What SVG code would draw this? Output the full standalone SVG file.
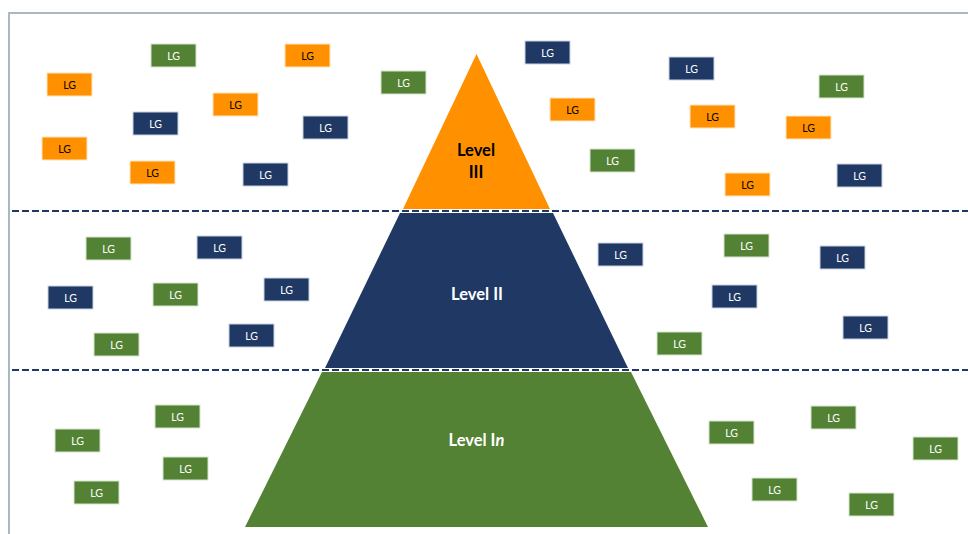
<svg xmlns="http://www.w3.org/2000/svg" width="968" height="534" viewBox="0 0 968 534">
<style>
.o{fill:#FF9100;stroke:#FFE3C0;stroke-width:1}
.b{fill:#203864;stroke:#C9D2E0;stroke-width:1}
.g{fill:#548235;stroke:#D6E3CC;stroke-width:1}
.t{font-family:Lato,"Open Sans",sans-serif;font-size:10.5px;text-anchor:middle}
.tw{fill:#ffffff}
.tk{fill:#000000}
.lv{font-family:Lato,"Open Sans",sans-serif;font-size:16.5px;font-weight:bold;text-anchor:middle}
.dash{stroke:#203864;stroke-width:2;stroke-dasharray:7 3;fill:none}
</style>
<rect width="968" height="534" fill="#ffffff"/>
<g id="frame" fill="none" stroke="#A9B8C2" stroke-width="2">
<path d="M9 534 V13 H968"/>
</g>
<g id="pyramid">
<g id="level3"><polygon points="476.5,54 403,209 550,209" fill="#FF9100"/>
<text class="lv" x="476" y="156" fill="#000">Level</text>
<text class="lv" x="476" y="177.5" fill="#000">III</text></g>
<g id="level2"><polygon points="400,213 553,213 628,368 325,368" fill="#203864"/>
<text class="lv" x="477" y="299.5" fill="#fff">Level II</text></g>
<g id="level1"><polygon points="322,372 631,372 708,527 245,527" fill="#548235"/>
<text class="lv" x="476.5" y="446" fill="#fff">Level I<tspan font-style="italic">n</tspan></text></g>
</g>
<g id="connectors">
<line class="dash" x1="12" y1="211" x2="968" y2="211"/>
<line class="dash" x1="12" y1="370" x2="968" y2="370"/>
</g>
<g id="lg-boxes">
<g id="n1"><rect class="g" x="151" y="44" width="45" height="23"/><text class="t tw" x="173.5" y="59.5">LG</text></g>
<g id="n2"><rect class="o" x="47" y="73" width="45" height="23"/><text class="t tk" x="69.5" y="88.5">LG</text></g>
<g id="n3"><rect class="b" x="133" y="112" width="45" height="23"/><text class="t tw" x="155.5" y="127.5">LG</text></g>
<g id="n4"><rect class="o" x="42" y="137" width="45" height="23"/><text class="t tk" x="64.5" y="152.5">LG</text></g>
<g id="n5"><rect class="o" x="130" y="161" width="45" height="23"/><text class="t tk" x="152.5" y="176.5">LG</text></g>
<g id="n6"><rect class="o" x="285" y="44" width="45" height="23"/><text class="t tk" x="307.5" y="59.5">LG</text></g>
<g id="n7"><rect class="o" x="213" y="93" width="45" height="23"/><text class="t tk" x="235.5" y="108.5">LG</text></g>
<g id="n8"><rect class="b" x="303" y="116" width="45" height="23"/><text class="t tw" x="325.5" y="131.5">LG</text></g>
<g id="n9"><rect class="b" x="243" y="163" width="45" height="23"/><text class="t tw" x="265.5" y="178.5">LG</text></g>
<g id="n10"><rect class="g" x="381" y="71" width="45" height="23"/><text class="t tw" x="403.5" y="86.5">LG</text></g>
<g id="n11"><rect class="b" x="525" y="41" width="45" height="23"/><text class="t tw" x="547.5" y="56.5">LG</text></g>
<g id="n12"><rect class="o" x="550" y="98" width="45" height="23"/><text class="t tk" x="572.5" y="113.5">LG</text></g>
<g id="n13"><rect class="g" x="590" y="149" width="45" height="23"/><text class="t tw" x="612.5" y="164.5">LG</text></g>
<g id="n14"><rect class="b" x="669" y="57" width="45" height="23"/><text class="t tw" x="691.5" y="72.5">LG</text></g>
<g id="n15"><rect class="o" x="690" y="105" width="45" height="23"/><text class="t tk" x="712.5" y="120.5">LG</text></g>
<g id="n16"><rect class="g" x="819" y="75" width="45" height="23"/><text class="t tw" x="841.5" y="90.5">LG</text></g>
<g id="n17"><rect class="o" x="786" y="116" width="45" height="23"/><text class="t tk" x="808.5" y="131.5">LG</text></g>
<g id="n18"><rect class="o" x="725" y="173" width="45" height="23"/><text class="t tk" x="747.5" y="188.5">LG</text></g>
<g id="n19"><rect class="b" x="837" y="164" width="45" height="23"/><text class="t tw" x="859.5" y="179.5">LG</text></g>
<g id="n20"><rect class="g" x="86" y="237" width="45" height="23"/><text class="t tw" x="108.5" y="252.5">LG</text></g>
<g id="n21"><rect class="b" x="197" y="236" width="45" height="23"/><text class="t tw" x="219.5" y="251.5">LG</text></g>
<g id="n22"><rect class="b" x="48" y="286" width="45" height="23"/><text class="t tw" x="70.5" y="301.5">LG</text></g>
<g id="n23"><rect class="g" x="153" y="283" width="45" height="23"/><text class="t tw" x="175.5" y="298.5">LG</text></g>
<g id="n24"><rect class="b" x="264" y="278" width="45" height="23"/><text class="t tw" x="286.5" y="293.5">LG</text></g>
<g id="n25"><rect class="g" x="94" y="333" width="45" height="23"/><text class="t tw" x="116.5" y="348.5">LG</text></g>
<g id="n26"><rect class="b" x="229" y="324" width="45" height="23"/><text class="t tw" x="251.5" y="339.5">LG</text></g>
<g id="n27"><rect class="b" x="598" y="243" width="45" height="23"/><text class="t tw" x="620.5" y="258.5">LG</text></g>
<g id="n28"><rect class="g" x="724" y="234" width="45" height="23"/><text class="t tw" x="746.5" y="249.5">LG</text></g>
<g id="n29"><rect class="b" x="820" y="246" width="45" height="23"/><text class="t tw" x="842.5" y="261.5">LG</text></g>
<g id="n30"><rect class="b" x="712" y="285" width="45" height="23"/><text class="t tw" x="734.5" y="300.5">LG</text></g>
<g id="n31"><rect class="b" x="843" y="316" width="45" height="23"/><text class="t tw" x="865.5" y="331.5">LG</text></g>
<g id="n32"><rect class="g" x="657" y="332" width="45" height="23"/><text class="t tw" x="679.5" y="347.5">LG</text></g>
<g id="n33"><rect class="g" x="155" y="405" width="45" height="23"/><text class="t tw" x="177.5" y="420.5">LG</text></g>
<g id="n34"><rect class="g" x="55" y="429" width="45" height="23"/><text class="t tw" x="77.5" y="444.5">LG</text></g>
<g id="n35"><rect class="g" x="163" y="457" width="45" height="23"/><text class="t tw" x="185.5" y="472.5">LG</text></g>
<g id="n36"><rect class="g" x="74" y="481" width="45" height="23"/><text class="t tw" x="96.5" y="496.5">LG</text></g>
<g id="n37"><rect class="g" x="709" y="421" width="45" height="23"/><text class="t tw" x="731.5" y="436.5">LG</text></g>
<g id="n38"><rect class="g" x="811" y="406" width="45" height="23"/><text class="t tw" x="833.5" y="421.5">LG</text></g>
<g id="n39"><rect class="g" x="913" y="437" width="45" height="23"/><text class="t tw" x="935.5" y="452.5">LG</text></g>
<g id="n40"><rect class="g" x="752" y="478" width="45" height="23"/><text class="t tw" x="774.5" y="493.5">LG</text></g>
<g id="n41"><rect class="g" x="849" y="493" width="45" height="23"/><text class="t tw" x="871.5" y="508.5">LG</text></g>
</g>
</svg>
